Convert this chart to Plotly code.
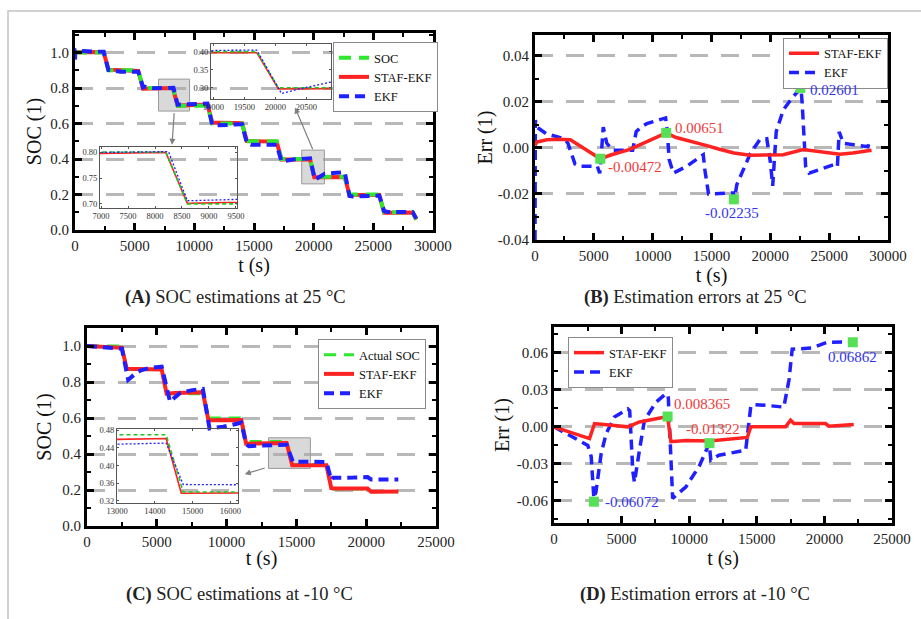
import plotly.graph_objects as go

FONT = "Liberation Serif, Times New Roman, serif"
W, H = 921, 619

# ---------------- Panel A : SOC at 25 °C ----------------
a_soc_t = [0, 2400, 2800, 5300, 5700, 8200, 8600, 11100, 11500, 14000, 14400, 16900, 17300,
           19700, 20050, 22600, 23000, 25500, 25900, 28300, 28600]
a_soc = [1.0, 1.0, 0.9, 0.9, 0.8, 0.8, 0.7, 0.7, 0.6, 0.6, 0.5, 0.5, 0.4, 0.4, 0.3, 0.3,
         0.2, 0.2, 0.1, 0.1, 0.06]
a_staf_t = [0, 2400, 2800, 4500, 5300, 5700, 6500, 8200, 8600, 10000, 11100, 11500, 13000,
            14000, 14400, 16900, 17300, 19700, 20050, 22600, 23000, 25500, 25900, 28300, 28600]
a_staf = [1.002, 1.0035, 0.9035, 0.898, 0.8958, 0.7955, 0.797, 0.7995, 0.701, 0.7045, 0.7065,
          0.6055, 0.6025, 0.6015, 0.501, 0.498, 0.397, 0.397, 0.297, 0.299, 0.1988, 0.1973,
          0.0972, 0.0988, 0.059]
a_ekf_t = [0, 30, 150, 1000, 2400, 2800, 3000, 3400, 3800, 5300, 5500, 5700, 5800, 6100, 6600,
           8250, 8600, 9000, 9500, 11100, 11250, 11500, 11750, 12900, 14000, 14400, 14750,
           16900, 17300, 18300, 19100, 19700, 20100, 20400, 20900, 21900, 22600, 23000, 23300,
           25500, 25900, 26200, 28300, 28600]
a_ekf = [0.96, 1.012, 1.009, 1.006, 1.004, 0.902, 0.899, 0.893, 0.892, 0.892, 0.839, 0.805,
         0.809, 0.802, 0.799, 0.801, 0.706, 0.708, 0.7095, 0.713, 0.67, 0.592, 0.589, 0.592,
         0.596, 0.49, 0.48, 0.4805, 0.386, 0.3975, 0.4035, 0.404, 0.284, 0.297, 0.316, 0.322,
         0.326, 0.192, 0.189, 0.193, 0.107, 0.102, 0.1005, 0.064]

# ---------------- Panel B : errors at 25 °C ----------------
b_staf_t = [0, 150, 1000, 2000, 3000, 3600, 4500, 5550, 6500, 8000, 9000, 10000, 11150, 12000,
            13000, 14450, 15600, 16900, 18300, 19500, 21100, 22800, 24200, 25900, 27000, 28600]
b_staf = [0.001, 0.0025, 0.0035, 0.0037, 0.0035, 0.0015, -0.0015, -0.00472, -0.003, -0.0008,
          0.0015, 0.0038, 0.00651, 0.0045, 0.003, 0.0012, -0.0005, -0.0022, -0.0032, -0.003,
          -0.003, -0.0007, -0.0015, -0.0028, -0.0022, -0.001]
b_ekf_t = [0, 30, 150, 1000, 2500, 2800, 3000, 3400, 3800, 5300, 5500, 5550, 5800, 6100, 6600,
           8300, 8600, 9000, 9500, 11100, 11250, 11400, 11750, 12900, 14000, 14300, 14450,
           14750, 16850, 16950, 17150, 18300, 19100, 19700, 20000, 20200, 20500, 21100, 21900,
           22600, 22700, 23000, 23300, 25550, 25700, 25850, 26200, 28300, 28500]
b_ekf = [-0.04, 0.012, 0.009, 0.006, 0.004, 0.002, -0.001, -0.007, -0.008, -0.008, -0.011,
         -0.009, 0.009, 0.002, -0.001, -0.001, 0.007, 0.009, 0.0105, 0.013, 0.007, -0.005,
         -0.011, -0.008, -0.004, -0.003, -0.010, -0.020, -0.0195, -0.0223, -0.016, -0.0025,
         0.0035, 0.004, -0.006, -0.0165, 0.007, 0.0165, 0.022, 0.026, 0.02, -0.008, -0.011,
         -0.007, -0.008, 0.007, 0.002, 0.0005, 0.004]
b_mark_t = [5550, 11150, 16900, 22550]
b_mark_v = [-0.00472, 0.00651, -0.02235, 0.02601]
b_mark_lbl = ["-0.00472", "0.00651", "-0.02235", "0.02601"]

# ---------------- Panel C : SOC at -10 °C ----------------
c_soc_t = [0, 2500, 2850, 5350, 5700, 8300, 8700, 11050, 11400, 14300, 14750, 17150, 17500,
           20100, 20350, 22300]
c_soc = [1.0, 1.0, 0.87, 0.87, 0.735, 0.735, 0.60, 0.60, 0.47, 0.47, 0.34, 0.34, 0.205, 0.205,
         0.19, 0.19]
c_staf_t = [0, 2500, 2850, 4100, 5350, 5700, 6300, 7800, 8300, 8700, 9800, 11050, 11400, 13200,
            14300, 14700, 17150, 17500, 17750, 20100, 20350, 22300]
c_staf = [1.0, 0.99, 0.873, 0.871, 0.87, 0.735, 0.739, 0.742, 0.7435, 0.587, 0.589, 0.589,
          0.457, 0.4605, 0.4615, 0.337, 0.338, 0.2105, 0.208, 0.208, 0.1905, 0.192]
c_ekf_t = [0, 900, 2500, 2950, 3490, 3860, 4470, 5350, 5950, 6320, 6690, 7550, 8300, 8775,
           9760, 10740, 11050, 11400, 11600, 12200, 14300, 14750, 17150, 17500, 17620, 19100,
           20100, 20350, 22300]
c_ekf = [1.0, 0.995, 0.985, 0.812, 0.848, 0.865, 0.878, 0.885, 0.69, 0.716, 0.74, 0.755,
         0.762, 0.542, 0.551, 0.568, 0.575, 0.455, 0.443, 0.447, 0.451, 0.357, 0.356, 0.255,
         0.268, 0.269, 0.272, 0.2586, 0.259]

# ---------------- Panel D : errors at -10 °C ----------------
d_staf_t = [0, 2630, 3000, 4100, 5460, 6320, 7790, 8400, 8650, 9760, 11500, 13200, 14300,
            14550, 17130, 17500, 17750, 20080, 20330, 22170]
d_staf = [0, -0.0095, 0.0027, 0.0014, 0.0, 0.004, 0.0068, 0.0084, -0.012, -0.011, -0.0115,
          -0.0095, -0.0086, 0.0, 0.0, 0.0054, 0.0027, 0.0027, 0.0005, 0.002]
d_ekf_t = [0, 900, 2500, 2750, 2950, 3100, 3490, 3860, 4470, 5460, 5600, 5830, 5950, 6320,
           6690, 7550, 8280, 8450, 8775, 9760, 10740, 11480, 11600, 12200, 14180, 14550, 14670,
           15650, 17000, 17380, 17620, 19100, 19960, 20200, 21930, 22170]
d_ekf = [0, -0.0054, -0.015, -0.024, -0.058, -0.053, -0.0216, -0.0054, 0.008, 0.0146, 0.013,
         -0.036, -0.045, -0.019, 0.0054, 0.02, 0.027, 0.025, -0.058, -0.0486, -0.032, -0.0135,
         -0.027, -0.023, -0.019, 0.0162, 0.018, 0.0175, 0.016, 0.038, 0.063, 0.064, 0.0675,
         0.0686, 0.0689, 0.0689]
d_mark_t = [2950, 8400, 11500, 22100]
d_mark_v = [-0.06072, 0.008365, -0.01322, 0.06862]
d_mark_lbl = ["-0.06072", "0.008365", "-0.01322", "0.06862"]

# ---------------- tick labels ----------------
x30_vals = [0, 5000, 10000, 15000, 20000, 25000, 30000]
x30_text = ["0", "5000", "10000", "15000", "20000", "25000", "30000"]
x25_vals = [0, 5000, 10000, 15000, 20000, 25000]
x25_text = ["0", "5000", "10000", "15000", "20000", "25000"]
soc_vals = [0.0, 0.2, 0.4, 0.6, 0.8, 1.0]
soc_text = ["0.0", "0.2", "0.4", "0.6", "0.8", "1.0"]
errb_vals = [-0.04, -0.02, 0.0, 0.02, 0.04]
errb_text = ["-0.04", "-0.02", "0.00", "0.02", "0.04"]
errd_vals = [-0.06, -0.03, 0.0, 0.03, 0.06]
errd_text = ["-0.06", "-0.03", "0.00", "0.03", "0.06"]
ins1_x = [7000, 7500, 8000, 8500, 9000, 9500]
ins1_y = [0.70, 0.75, 0.80]
ins1_yt = ["0.70", "0.75", "0.80"]
ins2_x = [19000, 19500, 20000, 20500]
ins2_y = [0.30, 0.35, 0.40]
ins2_yt = ["0.30", "0.35", "0.40"]
ins3_x = [13000, 14000, 15000, 16000]
ins3_y = [0.32, 0.36, 0.40, 0.44, 0.48]
ins3_yt = ["0.32", "0.36", "0.40", "0.44", "0.48"]

GREEN = "#2ee82e"
RED = "#ff2222"
BLUE = "#1f1fff"
MARK = "#55e055"
LBL_RED = "#f03a3a"
LBL_BLUE = "#3434f0"

fig = go.Figure()


def line(x, y, xa, ya, name, color, width, dash, legend=None, show=True):
    fig.add_trace(go.Scatter(
        x=x, y=y, xaxis=xa, yaxis=ya, mode="lines", name=name,
        line=dict(color=color, width=width, dash=dash),
        showlegend=show, legend=legend, hoverinfo="skip"))


# Panel A
line(a_staf_t, a_staf, "x", "y", "STAF-EKF", RED, 4, "solid", "legend")
line(a_soc_t, a_soc, "x", "y", "SOC", GREEN, 4, "12px,8px", "legend")
line(a_ekf_t, a_ekf, "x", "y", "EKF", BLUE, 4, "10px,6px", "legend")
# Panel B
line(b_ekf_t, b_ekf, "x2", "y2", "EKF", BLUE, 3.5, "10px,6px", "legend2")
line(b_staf_t, b_staf, "x2", "y2", "STAF-EKF", RED, 3.5, "solid", "legend2")
fig.add_trace(go.Scatter(x=b_mark_t, y=b_mark_v, xaxis="x2", yaxis="y2", mode="markers",
                         marker=dict(symbol="square", size=10, color=MARK),
                         showlegend=False, hoverinfo="skip"))
# Panel C
line(c_soc_t, c_soc, "x3", "y3", "Actual SOC", GREEN, 3, "12px,8px", "legend3")
line(c_staf_t, c_staf, "x3", "y3", "STAF-EKF", RED, 4, "solid", "legend3")
line(c_ekf_t, c_ekf, "x3", "y3", "EKF", BLUE, 4, "10px,6px", "legend3")
# Panel D
line(d_ekf_t, d_ekf, "x4", "y4", "EKF", BLUE, 3.5, "10px,6px", "legend4")
line(d_staf_t, d_staf, "x4", "y4", "STAF-EKF", RED, 3.5, "solid", "legend4")
fig.add_trace(go.Scatter(x=d_mark_t, y=d_mark_v, xaxis="x4", yaxis="y4", mode="markers",
                         marker=dict(symbol="square", size=10, color=MARK),
                         showlegend=False, hoverinfo="skip"))
# Insets (same data, zoomed)
for xa, ya, s_t, s, f_t, f, e_t, e in [
        ("x5", "y5", a_soc_t, a_soc, a_staf_t, a_staf, a_ekf_t, a_ekf),
        ("x6", "y6", a_soc_t, a_soc, a_staf_t, a_staf, a_ekf_t, a_ekf),
        ("x7", "y7", c_soc_t, c_soc, c_staf_t, c_staf, c_ekf_t, c_ekf)]:
    line(f_t, f, xa, ya, "STAF-EKF", RED, 1.6, "solid", show=False)
    line(s_t, s, xa, ya, "SOC", "#22c822", 1.6, "4px,3px", show=False)
    line(e_t, e, xa, ya, "EKF", BLUE, 1.3, "2px,2px", show=False)


def px_x(p):
    return p / W


def px_y(p):
    return 1 - p / H


def main_axis(domain, rng, vals, text, minor_dtick, anchor, title, grid=False, standoff=4):
    d = dict(domain=domain, range=rng, anchor=anchor, showline=True, linecolor="black",
             linewidth=3, mirror="allticks", ticks="inside", ticklen=7, tickwidth=2.5,
             tickcolor="black", tickmode="array", tickvals=vals, ticktext=text,
             minor=dict(ticks="inside", ticklen=4, tickwidth=2, tickcolor="black",
                        dtick=minor_dtick, tick0=0, showgrid=False),
             zeroline=False, showgrid=grid, automargin=False,
             tickfont=dict(family=FONT, size=15, color="#222"),
             title=dict(text=title, font=dict(family=FONT, size=20, color="#111"),
                        standoff=standoff))
    if grid:
        d.update(gridcolor="#b8b8b8", gridwidth=3, griddash="18px,13px")
    return d


def inset_axis(domain, rng, vals, text, anchor):
    return dict(domain=domain, range=rng, anchor=anchor, showline=True, linecolor="#555",
                linewidth=1, mirror="allticks", ticks="inside", ticklen=2, tickwidth=1,
                tickcolor="#555", tickmode="array", tickvals=vals, ticktext=text,
                zeroline=False, showgrid=False, automargin=False,
                tickfont=dict(family=FONT, size=8.5, color="#333"))


layout = dict(
    width=W, height=H, margin=dict(l=0, r=0, t=0, b=0, autoexpand=False),
    paper_bgcolor="white", plot_bgcolor="rgba(0,0,0,0)",
    font=dict(family=FONT, color="#111"),
    xaxis=main_axis([px_x(75), px_x(433)], [0, 30000], x30_vals, x30_text, 2500, "y", "t (s)", standoff=4),
    yaxis=main_axis([px_y(230), px_y(33)], [0, 1.11], soc_vals, soc_text, 0.1, "x", "SOC (1)", True, 4),
    xaxis2=main_axis([px_x(535), px_x(888)], [0, 30000], x30_vals, x30_text, 2500, "y2", "t (s)", standoff=2),
    yaxis2=main_axis([px_y(240), px_y(35)], [-0.04, 0.049], errb_vals, errb_text, 0.01, "x2", "Err (1)", True, 0),
    xaxis3=main_axis([px_x(87), px_x(436)], [0, 25000], x25_vals, x25_text, 2500, "y3", "t (s)", standoff=2),
    yaxis3=main_axis([px_y(526), px_y(328)], [0, 1.1], soc_vals, soc_text, 0.1, "x3", "SOC (1)", True, 6),
    xaxis4=main_axis([px_x(554), px_x(892)], [0, 25000], x25_vals, x25_text, 2500, "y4", "t (s)", standoff=2),
    yaxis4=main_axis([px_y(523), px_y(327)], [-0.078, 0.081], errd_vals, errd_text, 0.015, "x4", "Err (1)", True, 2),
    xaxis5=inset_axis([px_x(100), px_x(237)], [6980, 9520], ins1_x, [str(v) for v in ins1_x], "y5"),
    yaxis5=inset_axis([px_y(208), px_y(147)], [0.692, 0.81], ins1_y, ins1_yt, "x5"),
    xaxis6=inset_axis([px_x(211), px_x(331)], [18960, 20900], ins2_x, [str(v) for v in ins2_x], "y6"),
    yaxis6=inset_axis([px_y(99), px_y(44)], [0.269, 0.421], ins2_y, ins2_yt, "x6"),
    xaxis7=inset_axis([px_x(117), px_x(238)], [13000, 16200], ins3_x, [str(v) for v in ins3_x], "y7"),
    yaxis7=inset_axis([px_y(503), px_y(429)], [0.315, 0.483], ins3_y, ins3_yt, "x7"),
)

leg_common = dict(xanchor="left", yanchor="top", bgcolor="white", bordercolor="#8a8a8a",
                  borderwidth=1, font=dict(family=FONT, size=12.5, color="#111"),
                  tracegroupgap=0, itemwidth=30, traceorder="normal")
layout["legend"] = dict(x=px_x(333), y=px_y(42), **leg_common)
layout["legend2"] = dict(x=px_x(783), y=px_y(37.5), **leg_common)
layout["legend3"] = dict(x=px_x(318), y=px_y(339), **leg_common)
layout["legend4"] = dict(x=px_x(568), y=px_y(337), **leg_common)
fig.update_layout(**layout)

# legend order: SOC, STAF-EKF, EKF
for tr in fig.data:
    if tr.name in ("SOC", "Actual SOC"):
        tr.legendrank = 1
    elif tr.name == "STAF-EKF":
        tr.legendrank = 2
    elif tr.name == "EKF":
        tr.legendrank = 3

shapes = [
    # zoom boxes
    dict(type="rect", xref="x", yref="y", x0=7000, x1=9600, y0=0.67, y1=0.85,
         fillcolor="rgba(170,170,170,0.45)", line=dict(color="#9a9a9a", width=1), layer="between"),
    dict(type="rect", xref="x", yref="y", x0=19000, x1=20900, y0=0.26, y1=0.45,
         fillcolor="rgba(170,170,170,0.45)", line=dict(color="#9a9a9a", width=1), layer="between"),
    dict(type="rect", xref="x3", yref="y3", x0=13000, x1=16000, y0=0.32, y1=0.49,
         fillcolor="rgba(170,170,170,0.45)", line=dict(color="#9a9a9a", width=1), layer="between"),
    # thin page frame
    dict(type="rect", xref="paper", yref="paper", x0=px_x(8), x1=1.05, y0=-0.05, y1=px_y(11),
         line=dict(color="#c4c4c4", width=1.5), fillcolor="rgba(0,0,0,0)"),
]
fig.update_layout(shapes=shapes)

ann = []
# zoom arrows
ann.append(dict(x=8130, y=0.48, ax=8320, ay=0.667, xref="x", yref="y", axref="x", ayref="y",
                showarrow=True, arrowhead=2, arrowsize=1, arrowwidth=1.2, arrowcolor="#808080", text=""))
ann.append(dict(x=18440, y=0.69, ax=19970, ay=0.447, xref="x", yref="y", axref="x", ayref="y",
                showarrow=True, arrowhead=2, arrowsize=1, arrowwidth=1.2, arrowcolor="#808080", text=""))
ann.append(dict(x=11300, y=0.288, ax=12836, ay=0.325, xref="x3", yref="y3", axref="x3", ayref="y3",
                showarrow=True, arrowhead=2, arrowsize=1, arrowwidth=1.2, arrowcolor="#808080", text=""))

# value labels
b_lbl_pos = [(6000, -0.0083, "left", LBL_RED), (11700, 0.0085, "left", LBL_RED),
             (16700, -0.0282, "center", LBL_BLUE), (23200, 0.0250, "left", LBL_BLUE)]
for (x, y, xan, col), txt in zip(b_lbl_pos, b_mark_lbl):
    ann.append(dict(x=x, y=y, xref="x2", yref="y2", text=txt, showarrow=False, xanchor=xan,
                    yanchor="middle", font=dict(family=FONT, size=15, color=col)))
d_lbl_pos = [(3600, -0.0608, "left", LBL_BLUE), (8750, 0.0184, "left", LBL_RED),
             (11770, -0.0014, "center", LBL_RED), (22050, 0.0567, "center", LBL_BLUE)]
for (x, y, xan, col), txt in zip(d_lbl_pos, d_mark_lbl):
    ann.append(dict(x=x, y=y, xref="x4", yref="y4", text=txt, showarrow=False, xanchor=xan,
                    yanchor="middle", font=dict(family=FONT, size=15, color=col)))

# captions
captions = [(235, 298, "<b>(A)</b> SOC estimations at 25 °C"),
            (695, 298, "<b>(B)</b> Estimation errors at 25 °C"),
            (239, 594, "<b>(C)</b> SOC estimations at -10 °C"),
            (695, 594, "<b>(D)</b> Estimation errors at -10 °C")]
for x, y, txt in captions:
    ann.append(dict(x=px_x(x), y=px_y(y), xref="paper", yref="paper", text=txt, showarrow=False,
                    xanchor="center", yanchor="middle",
                    font=dict(family=FONT, size=18.5, color="#222")))
fig.update_layout(annotations=ann)

fig.write_html("out.html", config={"displayModeBar": False},
               post_script="document.body.style.margin='0px';document.body.style.padding='0px';")
